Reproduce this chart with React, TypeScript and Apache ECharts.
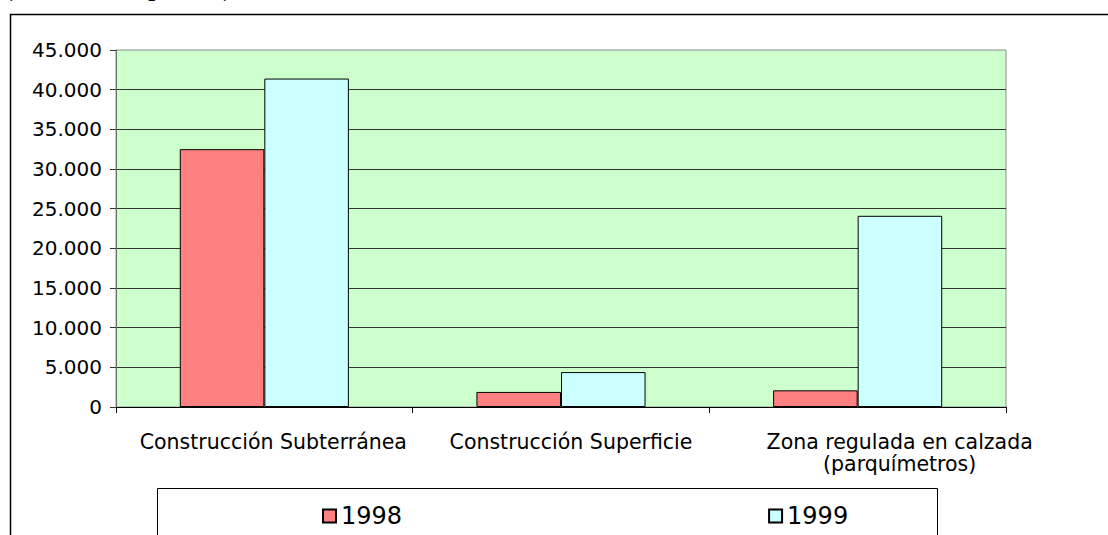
import React, { useEffect, useRef } from "react";
import * as echarts from "echarts";

const categories = [
  "Construcción Subterránea",
  "Construcción Superficie",
  "Zona regulada en calzada\n(parquímetros)",
];
const values1998 = [32500, 1900, 2100];
const values1999 = [41400, 4400, 24100];
const seriesNames = ["1998", "1999"];
const yMin = 0;
const yMax = 45000;
const yInterval = 5000;
const subtitle = "(número de plazas)";

const labelShift = [18, 20, 84];

const fmt = (v: number) =>
  String(v).replace(/\B(?=(\d{3})+(?!\d))/g, ".");

const FONT = "'DejaVu Sans', 'Liberation Sans', Arial, sans-serif";

export default function App() {
  const ref = useRef<HTMLDivElement>(null);
  useEffect(() => {
    if (!ref.current) return;
    const chart = echarts.init(ref.current, undefined, { renderer: "svg" });
    chart.setOption({
      animation: false,
      backgroundColor: "#ffffff",
      grid: {
        left: 116,
        right: 102,
        top: 50,
        bottom: 128,
        show: true,
        backgroundColor: "#CCFFCC",
        borderColor: "#8c8c8c",
        borderWidth: 1,
      },
      legend: {
        data: seriesNames,
        left: 317,
        top: 499,
        itemWidth: 13,
        itemHeight: 13,
        itemGap: 366,
        icon: "rect",
        textStyle: { fontFamily: FONT, fontSize: 24, color: "#000" },
      },
      xAxis: {
        type: "category",
        data: categories.map((c, i) => ({
          value: c,
          textStyle: { padding: [0, 0, 0, labelShift[i]] },
        })),
        axisLine: { show: true, lineStyle: { color: "#000", width: 1 } },
        axisTick: { show: true, length: 6, lineStyle: { color: "#000" } },
        axisLabel: {
          fontFamily: FONT,
          fontSize: 20.5,
          lineHeight: 22,
          color: "#000",
          margin: 24,
          interval: 0,
        },
        splitLine: { show: false },
      },
      yAxis: {
        type: "value",
        min: yMin,
        max: yMax,
        interval: yInterval,
        axisLine: { show: true, lineStyle: { color: "#6e6e6e", width: 1 } },
        axisTick: { show: true, length: 6, lineStyle: { color: "#333" } },
        axisLabel: {
          fontFamily: FONT,
          fontSize: 20,
          color: "#000",
          margin: 14,
          formatter: (v: number) => fmt(v),
        },
        splitLine: {
          show: true,
          showMaxLine: false,
          lineStyle: { color: "#333333", width: 1 },
        },
      },
      series: [
        {
          name: seriesNames[0],
          type: "bar",
          data: values1998,
          barGap: "0%",
          barCategoryGap: "43%",
          itemStyle: { color: "#FF8080", borderColor: "#000", borderWidth: 1 },
        },
        {
          name: seriesNames[1],
          type: "bar",
          data: values1999,
          barGap: "0%",
          barCategoryGap: "43%",
          itemStyle: { color: "#CCFFFF", borderColor: "#000", borderWidth: 1 },
        },
      ],
      graphic: [
        {
          type: "rect",
          left: 8,
          top: 12,
          shape: { x: 0, y: 0, width: 1200, height: 600 },
          style: { fill: "none", stroke: "#000", lineWidth: 1.5 },
          silent: true,
          z: -10,
        },
        {
          type: "rect",
          shape: { x: 157.5, y: 488.5, width: 780, height: 100 },
          style: { fill: "#fff", stroke: "#000", lineWidth: 1 },
          silent: true,
          z: -5,
        },
        {
          type: "text",
          x: 3,
          y: -16,
          style: {
            text: subtitle,
            font: "30px 'Liberation Serif', 'Times New Roman', serif",
            fill: "#000",
            align: "left",
            verticalAlign: "middle",
          },
          silent: true,
        },
      ],
    });
    return () => chart.dispose();
  }, []);
  return (
    <div
      ref={ref}
      style={{ position: "fixed", left: 0, top: 0, width: 1108, height: 535 }}
    />
  );
}
